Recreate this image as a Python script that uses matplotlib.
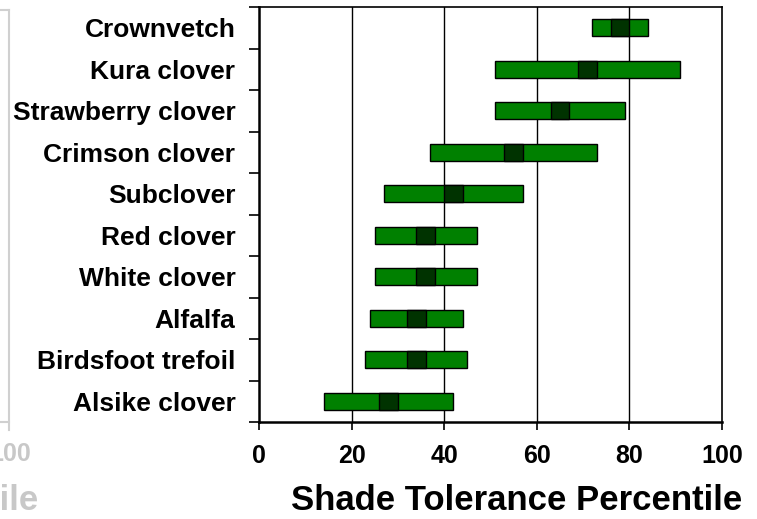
import matplotlib
matplotlib.use("Agg")
import matplotlib.pyplot as plt
import numpy as np

plt.rcParams['font.family'] = ['Liberation Sans', 'DejaVu Sans']
plt.rcParams['font.weight'] = 'bold'

species = ["Crownvetch", "Kura clover", "Strawberry clover", "Crimson clover",
           "Subclover", "Red clover", "White clover", "Alfalfa",
           "Birdsfoot trefoil", "Alsike clover"]
mins = [72, 51, 51, 37, 27, 25, 25, 24, 23, 14]
medians = [78, 71, 65, 55, 42, 36, 36, 34, 34, 28]
maxs = [84, 91, 79, 73, 57, 47, 47, 44, 45, 42]
xticks = [0, 20, 40, 60, 80, 100]

W, H = 757, 519
fig = plt.figure(figsize=(W / 100, H / 100), dpi=100)
ax = fig.add_axes([259 / W, 1 - 422 / H, (722 - 259) / W, (422 - 7) / H])

n = len(species)
ypos = np.arange(n)[::-1]
mins_a = np.array(mins)
med_a = np.array(medians)
max_a = np.array(maxs)
half = 2.0
bh = 0.41

ax.barh(ypos, max_a - mins_a, left=mins_a, height=bh, color='#008000',
        edgecolor='black', linewidth=1.0, zorder=3)
ax.barh(ypos, np.full(n, 2 * half), left=med_a - half, height=bh,
        color='#003300', edgecolor='black', linewidth=1.0, zorder=4)

ax.set_xlim(0, 100)
ax.set_ylim(-0.5, n - 0.5)
ax.set_xticks(xticks)
ax.set_xticklabels([str(v) for v in xticks], fontsize=18, fontweight='bold')
ax.tick_params(axis='x', direction='out', length=6, width=1.2, pad=10)

ax.set_yticks(ypos)
ax.set_yticklabels(species, fontsize=19, fontweight='bold')
ax.set_yticks(np.arange(n + 1) - 0.5, minor=True)
ax.tick_params(axis='y', which='major', length=0, pad=17)
ax.tick_params(axis='y', which='minor', direction='out', length=7, width=1.2)

for v in xticks[1:-1]:
    ax.axvline(v, color='black', linewidth=1.0, zorder=1)

for s in ['left', 'bottom']:
    ax.spines[s].set_linewidth(1.8)
for s in ['top', 'right']:
    ax.spines[s].set_linewidth(1.2)

ax.set_xlabel("Shade Tolerance Percentile", fontsize=25, fontweight='bold')
ax.xaxis.set_label_coords((742 - 259) / (722 - 259), -(501 - 422) / (422 - 7))
ax.xaxis.label.set_ha('right')
ax.xaxis.label.set_va('center')

# remnants of the neighbouring panel on the far left
grey_line = '#d0d0d0'
fig.add_artist(plt.Line2D([0, 9 / W], [1 - 10 / H, 1 - 10 / H], color=grey_line, linewidth=1.5))
fig.add_artist(plt.Line2D([9 / W, 9 / W], [1 - 10 / H, 1 - 430 / H], color=grey_line, linewidth=1.5))
fig.add_artist(plt.Line2D([0, 9 / W], [1 - 422 / H, 1 - 422 / H], color=grey_line, linewidth=1.5))
fig.text(31 / W, 1 - 454 / H, "100", fontsize=18, fontweight='bold',
         color='#c8c8c8', ha='right', va='center')
fig.text(38 / W, 1 - 501 / H, "Shade Tolerance Percentile", fontsize=25,
         fontweight='bold', color='#c8c8c8', ha='right', va='center')

fig.savefig("out.png", dpi=100)
